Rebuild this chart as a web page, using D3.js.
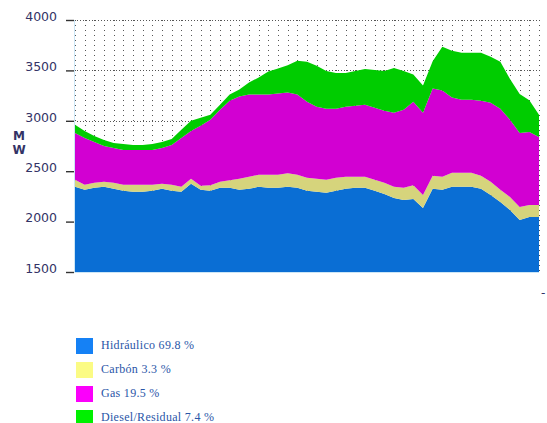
<!DOCTYPE html>
<html>
<head>
<meta charset="utf-8">
<script src="https://cdn.jsdelivr.net/npm/d3@7"></script>
<style>
  body { margin: 0; background: #fff; }
  svg { display: block; }
</style>
</head>
<body>
<script>
"use strict";

(function() {

const width = 547;
const height = 423;

// valores por periodo (MW)
const hidraulico = [2345,2315,2335,2345,2325,2305,2295,2295,2305,2325,2305,2295,2375,2315,2305,2335,2335,2315,2325,2345,2335,2335,2345,2335,2305,2295,2285,2305,2325,2335,2335,2305,2275,2235,2215,2225,2135,2325,2315,2345,2345,2345,2325,2265,2195,2115,2015,2045,2045];
const carbon = [70,50,50,50,60,60,70,70,60,50,60,50,50,40,55,60,75,110,120,120,130,130,135,130,130,130,130,130,120,110,110,110,110,110,120,135,130,130,130,140,140,140,130,130,120,130,130,120,120];
const gas = [465,465,405,355,345,345,345,345,345,355,395,485,475,595,650,715,790,815,815,795,795,805,800,795,755,715,705,685,695,705,715,715,715,735,775,830,815,865,855,745,725,725,745,785,805,765,735,725,675];
const diesel = [80,70,60,60,50,60,50,50,60,60,60,80,100,80,50,50,60,70,120,170,230,250,270,335,395,405,375,355,335,345,355,375,395,445,385,270,270,270,435,465,465,465,475,455,465,405,385,315,220];

const yTicks = [1500, 2000, 2500, 3000, 3500, 4000];
const keys = ["hidraulico", "carbon", "gas", "diesel"];
const legendLabels = ["Hidráulico 69.8 %", "Carbón 3.3 %", "Gas 19.5 %", "Diesel/Residual 7.4 %"];

const areaColors = ["#0a6ed4", "#d6d47c", "#d200d2", "#00cc00"];
const legendColors = ["#1581f5", "#fbfb84", "#fb00fb", "#00f000"];

const left = 74, right = 539, top = 20, bottom = 272;

let rows = hidraulico.map(function(d, i) {
    return { hidraulico: d, carbon: carbon[i], gas: gas[i], diesel: diesel[i] };
});

let x = d3.scaleLinear()
    .domain([0, rows.length - 1])
    .range([left + 1, right]);

let y = d3.scaleLinear()
    .domain([1500, 4000])
    .range([bottom, top]);

let svg = d3.select("body").append("svg")
    .attr("width", width)
    .attr("height", height);

svg.append("defs").append("clipPath")
    .attr("id", "plot")
    .append("rect")
    .attr("x", left)
    .attr("y", top)
    .attr("width", right - left)
    .attr("height", bottom - top);

// dotted grid
let grid = svg.append("g");

grid.selectAll("line.v")
    .data(d3.range(rows.length))
    .enter()
    .append("line")
    .attr("class", "v")
    .attr("x1", d => Math.round(x(d)) + 0.5)
    .attr("x2", d => Math.round(x(d)) + 0.5)
    .attr("y1", top)
    .attr("y2", bottom)
    .style("stroke", "#555")
    .style("stroke-width", 1)
    .style("stroke-dasharray", "1,4");

grid.selectAll("line.h")
    .data(yTicks.slice(1))
    .enter()
    .append("line")
    .attr("class", "h")
    .attr("x1", left)
    .attr("x2", right)
    .attr("y1", d => Math.round(y(d)) + 0.5)
    .attr("y2", d => Math.round(y(d)) + 0.5)
    .style("stroke", "#555")
    .style("stroke-width", 1)
    .style("stroke-dasharray", "1,2");

// stacked areas
let stack = d3.stack().keys(keys);
let series = stack(rows);

let area = d3.area()
    .x((d, i) => x(i))
    .y0(d => y(Math.max(d[0], 1400)))
    .y1(d => y(d[1]));

svg.append("g")
    .attr("clip-path", "url(#plot)")
    .selectAll("path")
    .data(series)
    .enter()
    .append("path")
    .attr("d", area)
    .style("fill", (d, i) => areaColors[i]);

// plot border (left and bottom)
svg.append("path")
    .attr("d", "M" + (left + 0.5) + "," + top + "V" + (bottom + 0.5) + "H" + right)
    .style("fill", "none")
    .style("stroke", "#cce6f6")
    .style("stroke-width", 1);

// y axis
let yAxis = d3.axisLeft(y)
    .tickValues(yTicks)
    .tickSize(8)
    .tickPadding(9)
    .tickFormat(d3.format("d"));

let axisG = svg.append("g")
    .attr("transform", "translate(" + left + ",0)")
    .call(yAxis);

axisG.select(".domain").remove();
axisG.selectAll(".tick line")
    .style("stroke", "#333")
    .style("stroke-width", 1.4);
axisG.selectAll(".tick text")
    .attr("dy", "0.02em")
    .style("fill", "#333366")
    .style("font-family", "'DejaVu Sans', Verdana, sans-serif")
    .style("font-size", "12.5px");

// unidad
let unit = svg.append("g")
    .style("fill", "#333366")
    .style("font-family", "'DejaVu Sans', Verdana, sans-serif")
    .style("font-size", "12px")
    .style("font-weight", "bold")
    .attr("text-anchor", "middle");
unit.append("text").attr("x", 19).attr("y", 140).text("M");
unit.append("text").attr("x", 19).attr("y", 154).text("W");

svg.append("text")
    .attr("x", 541)
    .attr("y", 297)
    .style("fill", "#333366")
    .style("font-family", "'DejaVu Sans', Verdana, sans-serif")
    .style("font-size", "12px")
    .text("-");

// legend
let legend = svg.append("g")
    .selectAll("g")
    .data(legendLabels)
    .enter()
    .append("g")
    .attr("transform", (d, i) => "translate(76," + (338 + i * 24) + ")");

legend.append("rect")
    .attr("width", 17)
    .attr("height", 16)
    .style("fill", (d, i) => legendColors[i]);

legend.append("text")
    .attr("x", 25)
    .attr("y", 11)
    .style("fill", "#2a56a8")
    .style("font-family", "'Liberation Serif', 'Times New Roman', serif")
    .style("font-size", "12px")
    .style("letter-spacing", "0.3px")
    .text(d => d);

})();
</script>
</body>
</html>
